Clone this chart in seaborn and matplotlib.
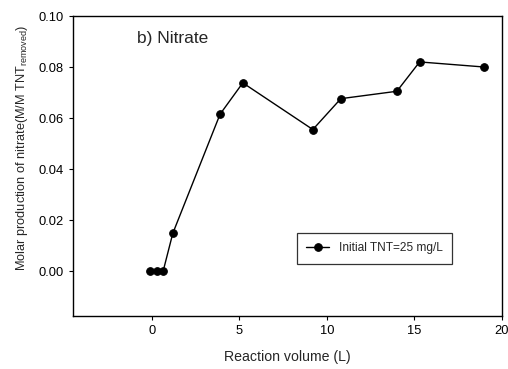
import matplotlib
matplotlib.use("Agg")
import matplotlib.pyplot as plt
import seaborn as sns
import pandas as pd

# Reaction volume (L) and molar nitrate production (M/M TNT removed)
volume = [-0.1, 0.3, 0.65, 1.2, 3.9, 5.2, 9.2, 10.8, 14.0, 15.3, 19.0]
nitrate = [0.0, 0.0, 0.0, 0.0148, 0.0615, 0.0738, 0.0555, 0.0676, 0.0705, 0.0820, 0.0800]
series_label = "Initial TNT=25 mg/L"
x_ticks = [0, 5, 10, 15, 20]
y_ticks = [0.00, 0.02, 0.04, 0.06, 0.08, 0.10]

df = pd.DataFrame({"volume": volume, "nitrate": nitrate, "series": series_label})

sns.set_style("ticks")
plt.rcParams["font.family"] = ["Liberation Sans", "DejaVu Sans"]
plt.rcParams["mathtext.fontset"] = "custom"
plt.rcParams["mathtext.rm"] = "Liberation Sans"

fig = plt.figure(figsize=(5.08, 3.69), dpi=100)
ax = fig.add_axes([0.1437, 0.1436, 0.988 - 0.1437, 0.9566 - 0.1436])

sns.lineplot(data=df, x="volume", y="nitrate", hue="series", palette=["black"],
             marker="o", markersize=5.5, markeredgecolor="black", linewidth=1.0,
             ax=ax)

ax.set_xlim(-4.5, 20)
ax.set_ylim(-0.0176, 0.10)
ax.set_xticks(x_ticks)
ax.set_yticks(y_ticks)
ax.set_yticklabels([f"{v:.2f}" for v in y_ticks])
ax.tick_params(direction="out", length=3, width=0.8, labelsize=9.3, colors="black")
for s in ax.spines.values():
    s.set_visible(True)
    s.set_linewidth(1.0)
    s.set_color("black")

ax.set_xlabel("Reaction volume (L)", fontsize=10.2, labelpad=9)
ax.set_ylabel(r"Molar production of nitrate(M/M TNT$_{\mathrm{removed}}$)",
              fontsize=9.2)
ax.yaxis.set_label_coords(-0.1, 0.56)

ax.text(-0.85, 0.0912, "b) Nitrate", fontsize=12.5, ha="left", va="center")

leg = ax.legend(loc="upper left", bbox_to_anchor=(0.522, 0.277), borderaxespad=0,
                frameon=True, fancybox=False, edgecolor="black", fontsize=8.6,
                handlelength=1.9, borderpad=0.8, handletextpad=0.8)
leg.get_frame().set_linewidth(0.9)

fig.savefig("out.png", dpi=100)
